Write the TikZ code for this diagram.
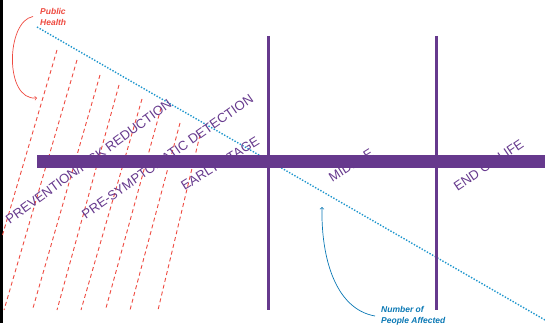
\documentclass[tikz,border=0pt]{standalone}
\usepackage{fontspec}
\setmainfont{Liberation Sans}
\definecolor{stagepurple}{RGB}{102,57,141}
\definecolor{riskred}{RGB}{238,74,64}
\definecolor{curveblue}{RGB}{30,150,205}
\definecolor{labelblue}{RGB}{10,120,180}
\begin{document}
\begin{tikzpicture}[x=1pt, y=1pt,
    stagelabel/.style={text=stagepurple, inner sep=0pt, font=\fontsize{13.1}{15}\selectfont},
    notelabel/.style={inner sep=0pt, anchor=west, align=left, font=\fontsize{8.5}{11}\selectfont\bfseries\itshape},
    riskline/.style={riskred, line width=0.9pt, dash pattern=on 4pt off 3pt},
    stageline/.style={stagepurple, line width=3pt}]
    \useasboundingbox (0,0) rectangle (545,327);

    % 左边黑条
    \fill[black] (0,4) rectangle (2.5,327);

    % 公共卫生的斜虚线
    \draw[riskline] (57,277) -- (2.5,92);
    \draw[riskline] (77,267) -- (4,17);
    \draw[riskline] (100,252) -- (33,19);
    \draw[riskline] (119,242) -- (57,17);
    \draw[riskline] (142,228) -- (81,17);
    \draw[riskline] (161,219) -- (106,19);
    \draw[riskline] (180,204) -- (130,17);
    \draw[riskline] (200,192) -- (158,17);

    % 受影响人数（点线）
    \coordinate (dotA) at (37,300);
    \coordinate (dotB) at (545,7);
    \draw[curveblue, line width=1.4pt, dash pattern=on 1.4pt off 1.6pt] (dotA) -- (dotB);

    % 各阶段文字
    \node[stagelabel, rotate=36] (prev) at (88.5,165.5) {PREVENTION/RISK REDUCTION};
    \node[stagelabel, rotate=35] (presym) at (167.5,170.5) {PRE-SYMPTOMATIC DETECTION};
    \node[stagelabel, rotate=32] (early) at (220,163.5) {EARLY STAGE};
    \node[stagelabel, rotate=32] (middle) at (351,161.5) {MIDDLE};
    \node[stagelabel, rotate=34] (endlife) at (488.5,162) {END OF LIFE};

    % 时间轴和分隔线
    \draw[stageline] (268,291) -- (268,17);
    \draw[stageline] (436,291) -- (436,17);
    \fill[stagepurple] (37,159) rectangle (545,172);

    % 标注
    \node[notelabel, text=riskred] (ph) at (40,310.5) {Public\\Health};
    \coordinate (phTip) at (37,229);
    \draw[->, riskred, line width=0.7pt] ([xshift=-7pt]ph.west) .. controls (6,306) and (4,226) .. (phTip);

    \node[notelabel, text=labelblue] (npa) at (381,11) {Number of\\People Affected};
    \coordinate (npaTip) at (322,120);
    \draw[->, labelblue, line width=0.7pt] ([xshift=-6pt]npa.west) .. controls (335,18) and (321,70) .. (npaTip);
\end{tikzpicture}
\end{document}
